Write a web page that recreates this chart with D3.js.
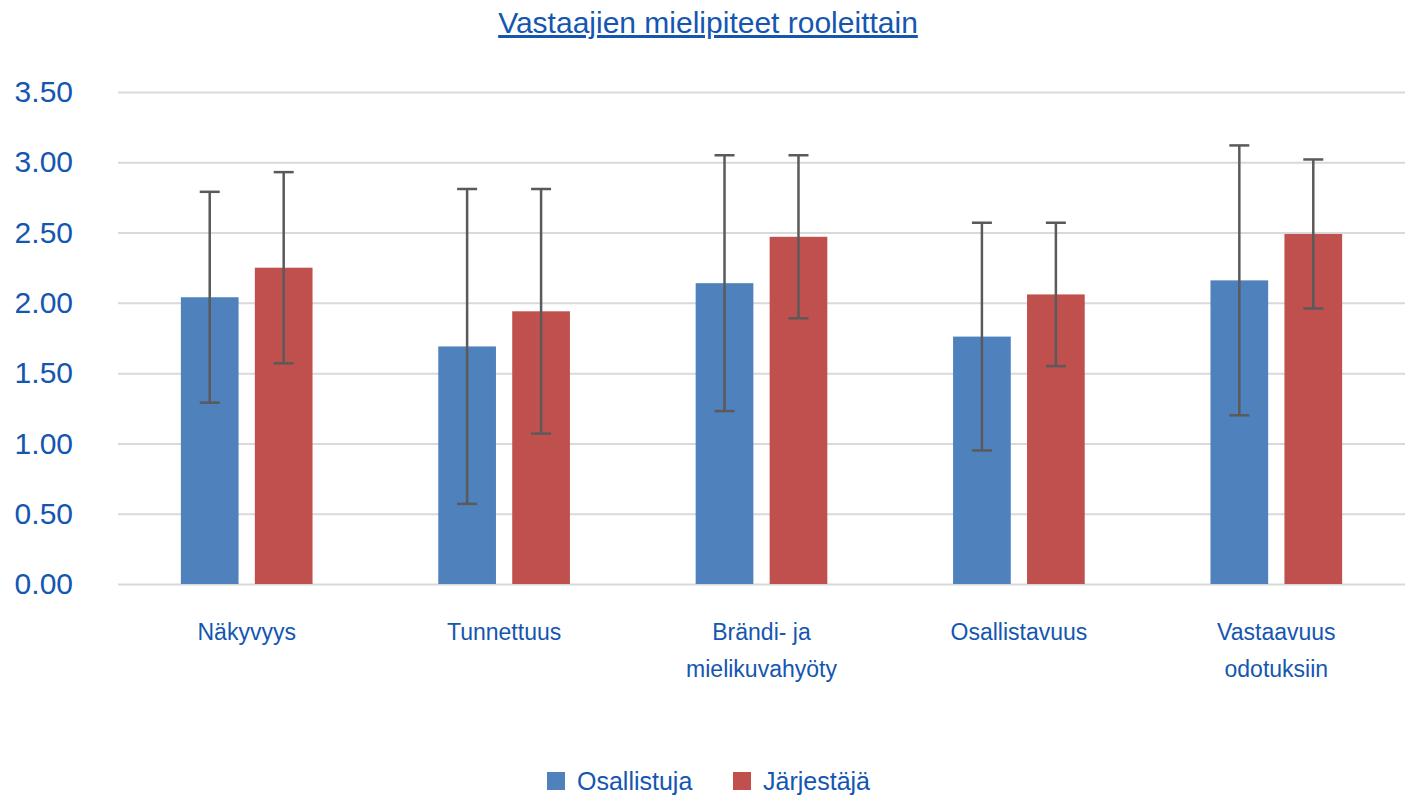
<!DOCTYPE html>
<html>
<head>
<meta charset="utf-8">
<script src="https://cdn.jsdelivr.net/npm/d3@7"></script>
<style>
  body { margin: 0; background: #fff; }
  text { font-family: "Liberation Sans", Arial, sans-serif; fill: #1456b0; }
</style>
</head>
<body>
<div class="chart"></div>
<script>
const categories = ["Näkyvyys", "Tunnettuus", "Brändi- ja\nmielikuvahyöty", "Osallistavuus", "Vastaavuus\nodotuksiin"]
const seriesNames = ["Osallistuja", "Järjestäjä"]
const osallistujaMean = [2.04, 1.69, 2.14, 1.76, 2.16]
const osallistujaSd = [0.75, 1.12, 0.91, 0.81, 0.96]
const jarjestajaMean = [2.25, 1.94, 2.47, 2.06, 2.49]
const jarjestajaSd = [0.68, 0.87, 0.58, 0.51, 0.53]
const yTicks = [0, 0.5, 1, 1.5, 2, 2.5, 3, 3.5]
const colors = ["#4f81bd", "#c0504d"]

const width = 1410
const height = 796
const margin = {top: 92, right: 5, bottom: 212, left: 118}

const svg = d3.select(".chart").append("svg")
    .attr("width", width)
    .attr("height", height)

const data = categories.map((c, i) => ({
  cat: c,
  values: [
    {s: seriesNames[0], mean: osallistujaMean[i], sd: osallistujaSd[i]},
    {s: seriesNames[1], mean: jarjestajaMean[i], sd: jarjestajaSd[i]}
  ]
}))

const x0 = d3.scaleBand()
    .domain(categories)
    .range([margin.left, width - margin.right])

const x1 = d3.scaleBand()
    .domain(seriesNames)
    .range([0, x0.bandwidth()])
    .paddingInner(0.22)
    .paddingOuter(0.85)

const y = d3.scaleLinear()
    .domain([0, 3.5])
    .range([height - margin.bottom, margin.top])

const color = d3.scaleOrdinal().domain(seriesNames).range(colors)

// title
svg.append("text")
    .attr("x", 708)
    .attr("y", 33)
    .attr("text-anchor", "middle")
    .style("font-size", "30px")
    .style("text-decoration", "underline")
    .text("Vastaajien mielipiteet rooleittain")

// grid + y labels
const yAxis = d3.axisLeft(y)
    .tickValues(yTicks)
    .tickFormat(d3.format(".2f"))
    .tickSize(-(width - margin.left - margin.right))
    .tickPadding(45)

svg.append("g")
    .attr("transform", `translate(${margin.left},0)`)
    .call(yAxis)
    .call(g => g.select(".domain").remove())
    .call(g => g.selectAll(".tick line").attr("stroke", "#d9d9d9").attr("stroke-width", 2))
    .call(g => g.selectAll(".tick text")
        .attr("fill", "#1456b0")
        .style("font-size", "30px")
        .style("font-family", "Liberation Sans, Arial, sans-serif"))

// bars
const groups = svg.selectAll(".group")
    .data(data)
    .join("g")
      .attr("class", "group")
      .attr("transform", d => `translate(${x0(d.cat)},0)`)

groups.selectAll("rect")
    .data(d => d.values)
    .join("rect")
      .attr("x", d => x1(d.s))
      .attr("y", d => y(d.mean))
      .attr("width", x1.bandwidth())
      .attr("height", d => y(0) - y(d.mean))
      .attr("fill", d => color(d.s))

// error bars
const err = groups.selectAll(".err")
    .data(d => d.values)
    .join("g")
      .attr("class", "err")
      .attr("stroke", "#5a5a5a")
      .attr("stroke-width", 2.5)

err.append("line")
    .attr("x1", d => x1(d.s) + x1.bandwidth() / 2)
    .attr("x2", d => x1(d.s) + x1.bandwidth() / 2)
    .attr("y1", d => y(d.mean + d.sd))
    .attr("y2", d => y(d.mean - d.sd))

err.selectAll(".cap")
    .data(d => [d, d].map((v, k) => ({s: v.s, v: k ? v.mean + v.sd : v.mean - v.sd})))
    .join("line")
      .attr("class", "cap")
      .attr("x1", d => x1(d.s) + x1.bandwidth() / 2 - 10)
      .attr("x2", d => x1(d.s) + x1.bandwidth() / 2 + 10)
      .attr("y1", d => y(d.v))
      .attr("y2", d => y(d.v))

// category labels
svg.selectAll(".cat")
    .data(categories)
    .join("text")
      .attr("class", "cat")
      .attr("text-anchor", "middle")
      .style("font-size", "23px")
      .attr("transform", d => `translate(${x0(d) + x0.bandwidth() / 2},640)`)
      .selectAll("tspan")
      .data(d => d.split("\n"))
      .join("tspan")
        .attr("x", 0)
        .attr("y", (d, i) => i * 37)
        .text(d => d)

// legend
const legend = svg.append("g")
    .selectAll("g")
    .data(seriesNames)
    .join("g")
      .attr("transform", (d, i) => `translate(${547 + i * 186},772)`)

legend.append("rect")
    .attr("width", 18)
    .attr("height", 18)
    .attr("fill", d => color(d))

legend.append("text")
    .attr("x", 30)
    .attr("y", 18)
    .style("font-size", "25px")
    .text(d => d)
</script>
</body>
</html>
